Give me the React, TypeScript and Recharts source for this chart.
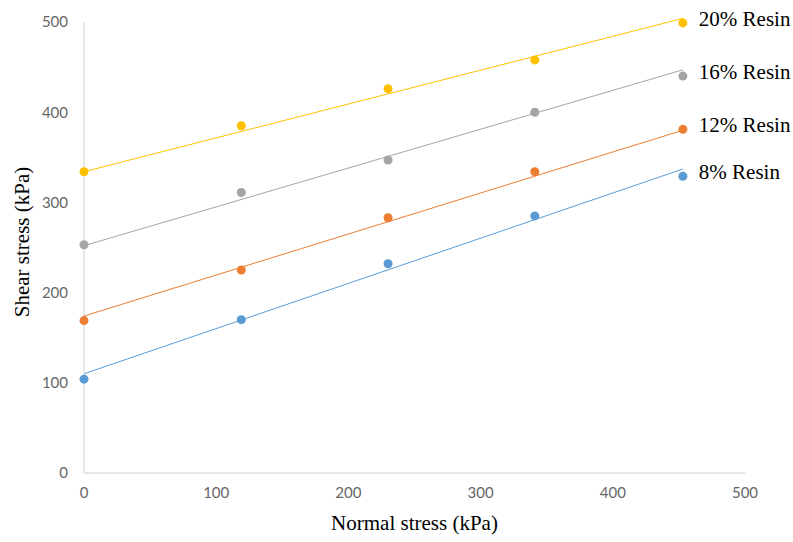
import React from "react"
import {
  ComposedChart,
  Scatter,
  XAxis,
  YAxis,
  ReferenceLine,
} from "recharts"

// normal stress (kPa) at which the samples were tested
const normalStress = [0, 119, 230, 341, 453]

// measured shear stress (kPa)
const resin8 = [104, 170, 232, 285, 329]
const resin12 = [169, 225, 283, 334, 381]
const resin16 = [253, 311, 347, 400, 440]
const resin20 = [334, 385, 426, 458, 499]

// linear trend lines, value at start / end of x range
const trendX = [0, 453]
const trend8 = [110, 337]
const trend12 = [174, 380]
const trend16 = [252, 447]
const trend20 = [334, 504]

const xTicks = [0, 100, 200, 300, 400, 500]
const yTicks = [0, 100, 200, 300, 400, 500]

const series = [
  { name: "8% Resin", values: resin8, trend: trend8, color: "#5b9bd5" },
  { name: "12% Resin", values: resin12, trend: trend12, color: "#ed7d31" },
  { name: "16% Resin", values: resin16, trend: trend16, color: "#a5a5a5" },
  { name: "20% Resin", values: resin20, trend: trend20, color: "#ffc000" },
]

const lastX = normalStress[normalStress.length - 1]
const tickStyle = { fill: "#666", fontSize: 15, fontFamily: "Lato, sans-serif" }
const serif = "'Liberation Serif', 'Times New Roman', serif"

function makeShape(name: string, color: string) {
  return (props: any) => {
    const { cx, cy, payload } = props
    return (
      <g>
        <circle cx={cx} cy={cy} r={4.5} fill={color} />
        {payload.x === lastX && (
          <text
            x={cx + 16}
            y={cy - 4}
            dominantBaseline="central"
            fontFamily={serif}
            fontSize={21}
            fill="#000"
          >
            {name}
          </text>
        )}
      </g>
    )
  }
}

export default function App() {
  return (
    <div style={{ position: "absolute", left: 0, top: 0, background: "#fff" }}>
      <ComposedChart
        width={793}
        height={542}
        margin={{ top: 22, right: 48, bottom: 39, left: 24 }}
      >
        <XAxis
          type="number"
          dataKey="x"
          domain={[0, 500]}
          ticks={xTicks}
          height={30}
          tickLine={false}
          tickMargin={8}
          axisLine={{ stroke: "#d0d0d0" }}
          tick={tickStyle}
          label={(p: any) => (
            <text
              x={p.viewBox.x + p.viewBox.width / 2}
              y={523}
              textAnchor="middle"
              dominantBaseline="central"
              fontFamily={serif}
              fontSize={21}
              fill="#000"
            >
              Normal stress (kPa)
            </text>
          )}
        />
        <YAxis
          type="number"
          dataKey="y"
          domain={[0, 500]}
          ticks={yTicks}
          width={60}
          tickLine={false}
          tickMargin={10}
          axisLine={{ stroke: "#d0d0d0" }}
          tick={tickStyle}
          label={(p: any) => (
            <text
              x={22}
              y={242}
              transform="rotate(-90 22 242)"
              textAnchor="middle"
              dominantBaseline="central"
              fontFamily={serif}
              fontSize={21}
              fill="#000"
            >
              Shear stress (kPa)
            </text>
          )}
        />
        {series.map((s) => (
          <ReferenceLine
            key={"t" + s.name}
            segment={[
              { x: trendX[0], y: s.trend[0] },
              { x: trendX[1], y: s.trend[1] },
            ]}
            stroke={s.color}
            strokeWidth={1}
            ifOverflow="visible"
          />
        ))}
        {series.map((s) => (
          <Scatter
            key={s.name}
            name={s.name}
            data={normalStress.map((x, i) => ({ x, y: s.values[i] }))}
            fill={s.color}
            shape={makeShape(s.name, s.color)}
            isAnimationActive={false}
          />
        ))}
      </ComposedChart>
    </div>
  )
}
